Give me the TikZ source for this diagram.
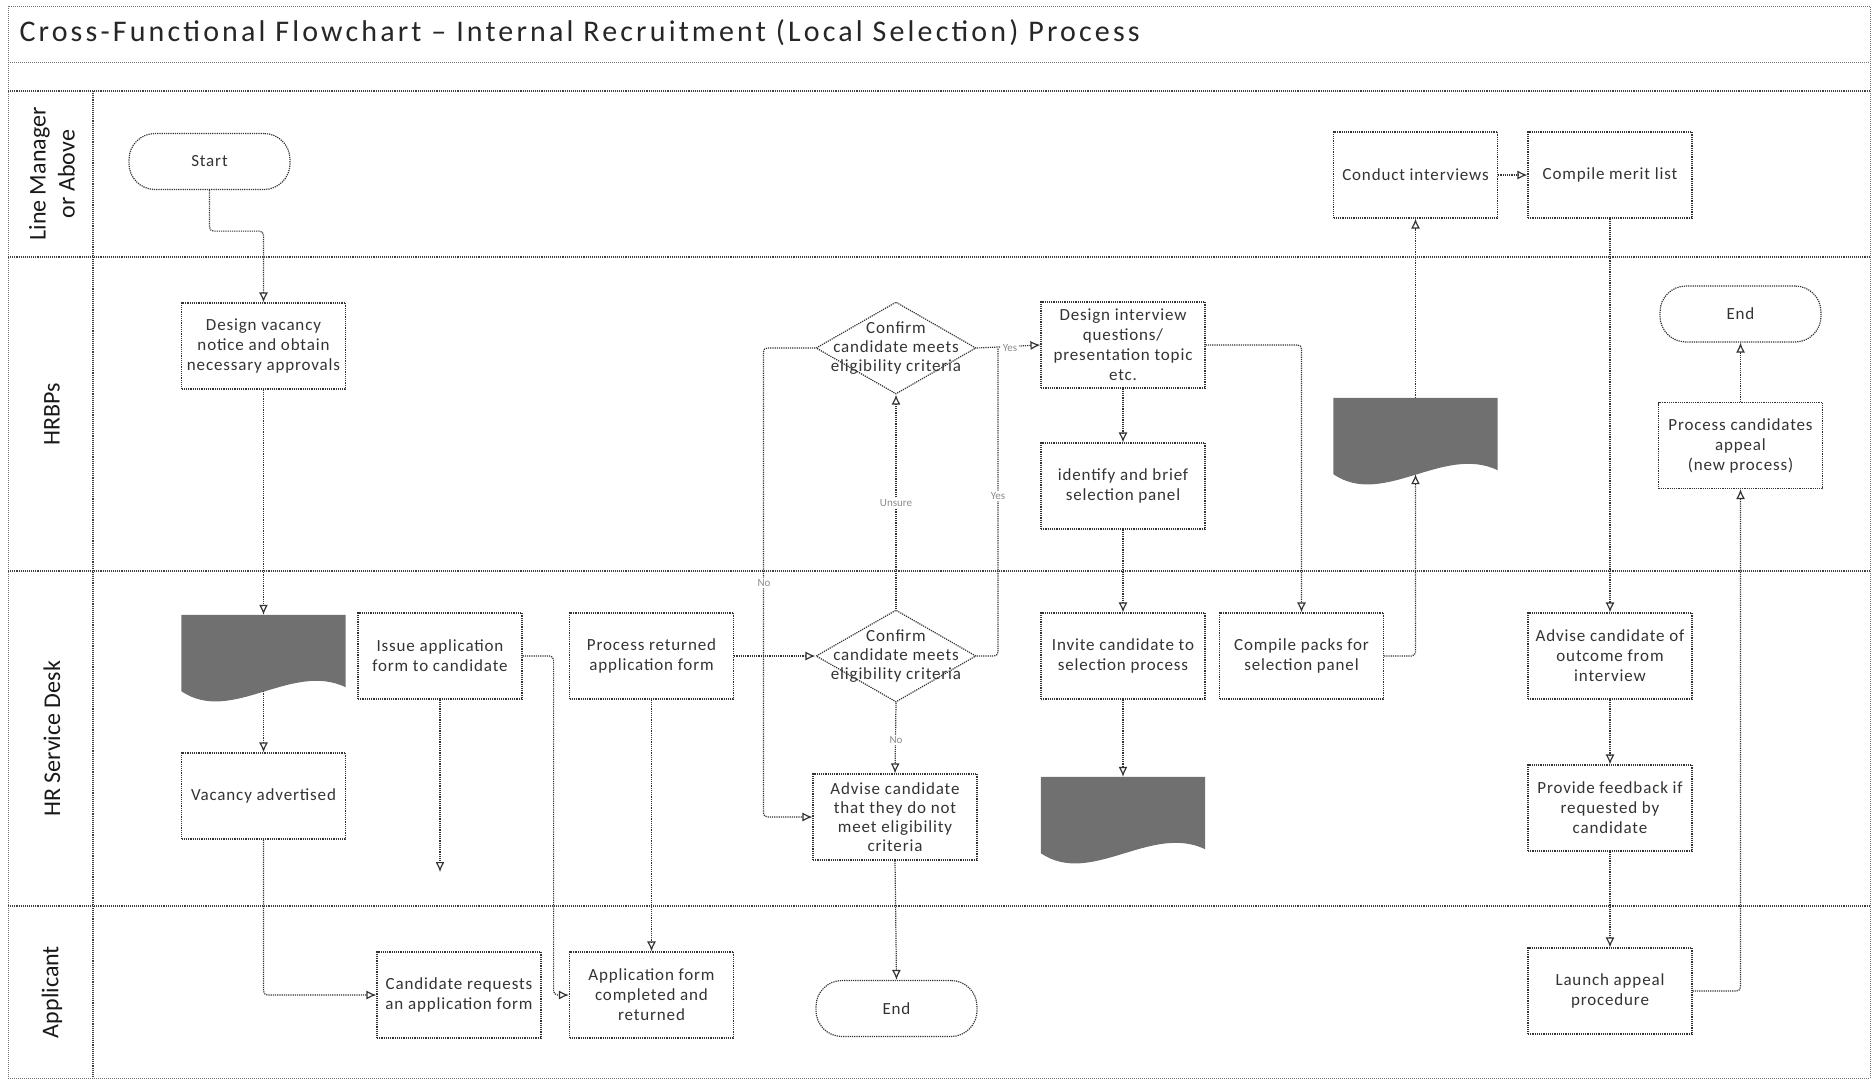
\documentclass[tikz,border=0pt]{standalone}
\usepackage{fontspec}
\setmainfont{Carlito}
\newfontfamily\boxfont{Carlito}[LetterSpace=5]
\newfontfamily\titlefont{Carlito}[LetterSpace=10.5]
\usetikzlibrary{arrows.meta,shapes.geometric,calc}
% filled document symbol with a wavy lower edge, drawn on an invisible node
\newcommand\wavedoc[1]{%
  \fill[docfill] (#1.north west) -- (#1.north east) -- ($(#1.south east)+(0,-4)$)
    .. controls ($(#1.south west)+(110,-30)$) and ($(#1.south west)+(50,34)$) .. (#1.south west) -- cycle;}
\begin{document}
\begin{tikzpicture}[x=1pt,y=-1pt,
  every node/.style={text=black!80},
  frame/.style={densely dotted, line width=1pt, black!55},
  lane/.style={densely dotted, line width=1.1pt, black!75},
  proc/.style={draw=black!80, densely dotted, line width=1.2pt, rectangle,
    minimum width=164pt, minimum height=86pt, align=center, inner sep=1pt,
    font=\boxfont\fontsize{17}{20}\selectfont},
  term/.style={proc, rounded corners=26pt, minimum width=161pt, minimum height=56pt},
  decision/.style={draw=black!80, densely dotted, line width=1.2pt, diamond,
    minimum width=160pt, minimum height=92pt, inner sep=0pt},
  dtext/.style={align=center, font=\boxfont\fontsize{17}{19}\selectfont, inner sep=0pt},
  docnode/.style={rectangle, minimum width=164pt, minimum height=76pt, inner sep=0pt},
  docfill/.style={fill=black!56},
  link/.style={densely dotted, line width=1.2pt, black!80, rounded corners=4pt},
  flow/.style={link, -{Latex[open,length=10pt,width=9pt]}},
  lbl/.style={font=\fontsize{11}{12}\selectfont, text=black!45, fill=white, inner sep=1.5pt},
  lanename/.style={rotate=90, align=center, font=\fontsize{24}{29}\selectfont, text=black!90}
]
\useasboundingbox (0,0) rectangle (1874,1080);

% pool frame, header rows and swimlanes
\draw[frame] (8,6) rectangle (1870,1078);
\draw[frame] (8,62) -- (1870,62);
\draw[lane] (8,91) -- (1870,91);
\foreach \yy in {257,571,906} \draw[lane] (8,\yy) -- (1870,\yy);
\draw[lane] (93,91) -- (93,1078);

\node[anchor=west, text=black!85, font=\titlefont\fontsize{30}{34}\selectfont] (title) at (16,33)
  {Cross-Functional Flowchart – Internal Recruitment (Local Selection) Process};

\node[lanename] (ln1) at (52,174) {Line Manager\\or Above};
\node[lanename] (ln2) at (52,414) {HRBPs};
\node[lanename] (ln3) at (52,739) {HR Service Desk};
\node[lanename] (ln4) at (52,992) {Applicant};

% process steps
\node[term] (start) at (209.5,161.5) {Start};
\node[proc] (design) at (263.5,346) {Design vacancy\\notice and obtain\\necessary approvals};
\node[docnode] (doc1) at (263.5,653) {};
\node[proc] (adv) at (263.5,796) {Vacancy advertised};
\node[proc] (creq) at (459,995) {Candidate requests\\an application form};
\node[proc] (issue) at (440,656) {Issue application\\form to candidate};
\node[proc] (proc1) at (651.5,656) {Process returned\\application form};
\node[proc] (appc) at (651.5,995) {Application form\\completed and\\returned};

\node[decision] (dup) at (896,348) {};
\node[dtext] (duptxt) at (dup) {Confirm\\candidate meets\\eligibility criteria};
\node[decision] (dlow) at (896,656) {};
\node[dtext] (dlowtxt) at (dlow) {Confirm\\candidate meets\\eligibility criteria};
\node[proc, font=\boxfont\fontsize{17}{19}\selectfont] (advise) at (895,817)
  {Advise candidate\\that they do not\\meet eligibility\\criteria};
\node[term] (end1) at (896.5,1008.5) {End};

\node[proc] (dint) at (1123,345) {Design interview\\questions/\\presentation topic\\etc.};
\node[proc] (ident) at (1123,486) {identify and brief\\selection panel};
\node[proc] (invite) at (1123,656) {Invite candidate to\\selection process};
\node[docnode] (doc2) at (1123,815) {};
\node[proc] (cpack) at (1301.5,656) {Compile packs for\\selection panel};
\node[docnode] (doc3) at (1415.5,436) {};
\node[proc] (conduct) at (1415.5,175) {Conduct interviews};
\node[proc] (merit) at (1610,175) {Compile merit list};
\node[proc] (aout) at (1610,656) {Advise candidate of\\outcome from\\interview};
\node[proc] (feed) at (1610,808) {Provide feedback if\\requested by\\candidate};
\node[proc] (launch) at (1610,991) {Launch appeal\\procedure};
\node[proc] (pappeal) at (1740.5,445.5) {Process candidates\\appeal\\(new process)};
\node[term] (end2) at (1740.5,314) {End};

\wavedoc{doc1}
\wavedoc{doc2}
\wavedoc{doc3}

\coordinate (issuetip) at (440,872);
\coordinate (yesj) at (998,348);

% connectors
\draw[flow] (start.south) -- ++(0,41) -| (design.north);
\draw[flow] (design.south) -- (doc1.north);
\draw[flow] (doc1.south) -- (adv.north);
\draw[flow] (adv.south) |- (creq.west);
\draw[flow] (issue.south) -- (issuetip);
\draw[flow] (issue.east) -- ++(31,0) |- (appc.west);
\draw[flow] (proc1.south) -- (appc.north);
\draw[flow] (proc1.east) -- (dlow.west);
\draw[flow] (dup.west) -- ++(-52,0) |- (advise.west);
\draw[flow] (dlow.north) -- (dup.south);
\draw[link] (dlow.east) -| (yesj);
\draw[flow] (dup.east) -- (dint.west);
\draw[flow] (dlow.south) -- (advise.north);
\draw[flow] (advise.south) -- (end1.north);
\draw[flow] (dint.south) -- (ident.north);
\draw[flow] (ident.south) -- (invite.north);
\draw[flow] (invite.south) -- (doc2.north);
\draw[flow] (dint.east) -| (cpack.north);
\draw[flow] (cpack.east) -| (doc3.south);
\draw[flow] (doc3.north) -- (conduct.south);
\draw[flow] (conduct.east) -- (merit.west);
\draw[flow] (merit.south) -- (aout.north);
\draw[flow] (aout.south) -- (feed.north);
\draw[flow] (feed.south) -- (launch.north);
\draw[flow] (launch.east) -| (pappeal.south);
\draw[flow] (pappeal.north) -- (end2.south);

% branch labels
\node[lbl] (lno1) at (764,583) {No};
\node[lbl] (lmid) at (896,503) {Unsure};
\node[lbl] (lyes1) at (998,496) {Yes};
\node[lbl] (lyes2) at (1010,348) {Yes};
\node[lbl] (lno2) at (896,740) {No};
\end{tikzpicture}
\end{document}
